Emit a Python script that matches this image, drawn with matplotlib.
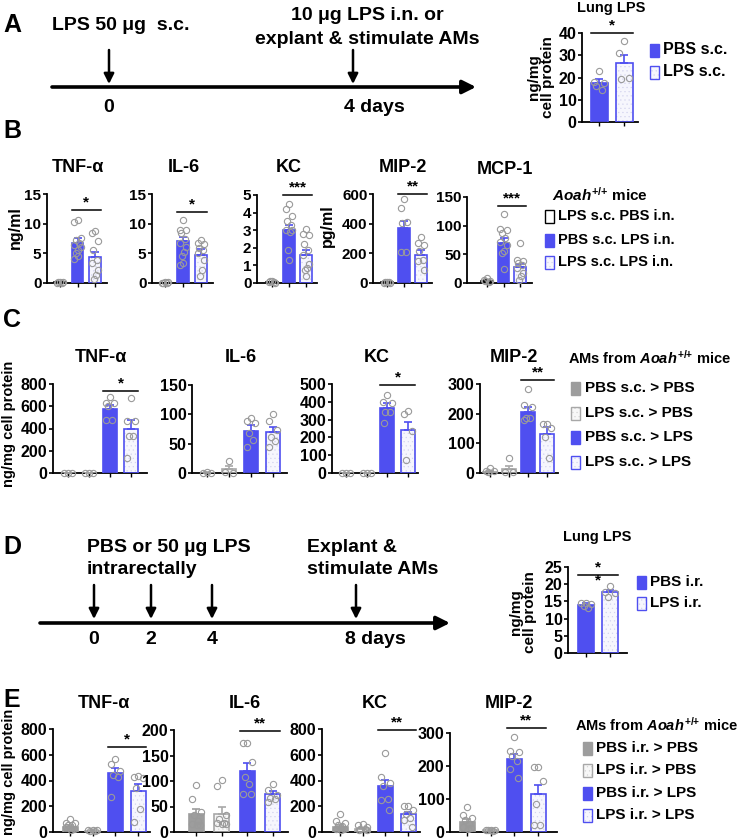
import matplotlib
matplotlib.use("Agg")
import matplotlib.pyplot as plt
import numpy as np
from matplotlib.patches import Rectangle

plt.rcParams["font.family"] = ["Liberation Sans", "DejaVu Sans"]
plt.rcParams["font.weight"] = "bold"
plt.rcParams["hatch.linewidth"] = 0.35
plt.rcParams["mathtext.fontset"] = "custom"
plt.rcParams["mathtext.it"] = "Liberation Sans:italic:bold"
plt.rcParams["mathtext.rm"] = "Liberation Sans:bold"
plt.rcParams["mathtext.bf"] = "Liberation Sans:bold"

# ---------------- data ----------------
A_GROUPS = ["PBS s.c.", "LPS s.c."]
A_MEAN = [17.6, 26.6]
A_SEM = [1.6, 3.5]
A_POINTS = [[23.1, 18.1, 17.4, 16.2, 14.6], [36.5, 31.0, 19.9, 19.2]]

B_TITLES = ["TNF-α", "IL-6", "KC", "MIP-2", "MCP-1"]
B_GROUPS = ["LPS s.c. PBS i.n.", "PBS s.c. LPS i.n.", "LPS s.c. LPS i.n."]
B_MEAN = [[0.1, 6.7, 4.3], [0.05, 7.1, 4.8], [0.05, 3.0, 1.6], [4, 370, 190], [3, 70, 28]]
B_SEM = [[0.05, 0.9, 0.9], [0.03, 0.6, 1.0], [0.02, 0.3, 0.3], [1, 48, 32], [2, 8, 6]]
B_POINTS = [
    [[0.1, 0.0, 0.2, 0.1, 0.0],
     [10.7, 10.2, 7.6, 7.3, 6.8, 6.4, 6.0, 5.5, 5.0, 4.5, 4.0],
     [8.7, 8.4, 7.0, 5.6, 3.9, 3.4, 2.2, 1.4, 0.6]],
    [[0.1, 0.0, 0.1, 0.0, 0.05],
     [10.7, 8.9, 8.9, 8.4, 7.5, 6.7, 6.1, 5.3, 4.5, 3.4, 3.1],
     [7.3, 6.8, 6.6, 5.9, 5.6, 5.0, 3.9, 2.2, 1.1]],
    [[0.1, 0.05, 0.0, 0.1, 0.05],
     [4.5, 4.2, 3.8, 3.5, 3.3, 3.0, 3.0, 2.9, 1.9, 1.3],
     [3.06, 2.8, 2.7, 2.2, 1.9, 1.6, 1.1, 0.85, 0.75, 0.4]],
    [[5, 3, 2, 4, 6],
     [566, 503, 414, 403, 206, 206],
     [313, 268, 257, 213, 157, 145, 89]],
    [[8.7, 5.8, 2.9, 2.9, 1.2],
     [121, 95, 93, 87, 78, 72, 66, 55, 52, 24],
     [69, 40, 39, 35, 32, 26, 17, 12, 6]],
]
B_YMAX = [15, 15, 5, 600, 150]
B_STEP = [5, 5, 1, 200, 50]
B_SIG = [(1, 2, 12.3, "*"), (1, 2, 12.0, "*"), (1, 2, 5.0, "***"),
         (1, 2, 600, "**"), (1, 2, 135, "***")]

C_TITLES = ["TNF-α", "IL-6", "KC", "MIP-2"]
C_GROUPS = ["PBS s.c. > PBS", "LPS s.c. > PBS", "PBS s.c. > LPS", "LPS s.c. > LPS"]
C_MEAN = [[0, 0, 578, 398], [0.5, 6, 72, 70], [0, 0, 364, 239], [5, 13, 204, 131]]
C_SEM = [[0, 0, 36, 78], [0.4, 6, 9, 9], [0, 0, 27, 50], [2, 11, 19, 23]]
C_POINTS = [
    [[0, 0, 0], [0, 0, 0],
     [680, 625, 625, 600, 480, 480],
     [672, 469, 469, 337, 337, 134]],
    [[1, 0.5, 0.5], [20, 1, 0.5],
     [93, 88, 86, 68, 57, 45],
     [100, 88, 74, 62, 54, 44]],
    [[0, 0, 0], [0, 0, 0],
     [438, 401, 392, 345, 340, 280],
     [351, 330, 235, 75]],
    [[17, 6, 6, 2], [50, 2, 2],
     [283, 229, 224, 185, 185, 179],
     [166, 166, 151, 123, 50]],
]
C_YMAX = [800, 150, 500, 300]
C_STEP = [200, 50, 100, 100]
C_SIG = [(2, 3, 740, "*"), None, (2, 3, 494, "*"), (2, 3, 313, "**")]

D_GROUPS = ["PBS i.r.", "LPS i.r."]
D_MEAN = [14.0, 17.7]
D_SEM = [0.5, 0.6]
D_POINTS = [[14.6, 14.5, 14.2, 13.6, 13.2], [19.5, 17.8, 17.5, 16.4]]

E_TITLES = ["TNF-α", "IL-6", "KC", "MIP-2"]
E_GROUPS = ["PBS i.r. > PBS", "LPS i.r. > PBS", "PBS i.r. > LPS", "LPS i.r. > LPS"]
E_MEAN = [[40, 11, 458, 318], [35, 35, 119, 74], [40, 22, 356, 136], [30, 6, 222, 114]]
E_SEM = [[12, 3, 38, 58], [11, 14, 16, 6], [14, 9, 46, 22], [10, 2, 14, 28]]
E_POINTS = [
    [[104, 73, 73, 52, 52, 39, 26, 18], [18, 13, 13, 8, 5],
     [564, 532, 470, 442, 430, 273],
     [436, 429, 421, 343, 182, 78]],
    [[93, 64, 39, 33, 21, 16, 13, 13], [102, 90, 33, 26, 18, 18, 16, 16],
     [174, 174, 138, 108, 95, 75, 74],
     [95, 82, 72, 66, 64, 58]],
    [[138, 83, 70, 52, 44, 26, 26, 18], [65, 57, 39, 26, 21, 13, 13],
     [610, 430, 380, 358, 260, 250, 170],
     [205, 200, 170, 140, 105, 95, 40]],
    [[76, 53, 41, 36, 25, 15, 12, 10], [7, 7, 5, 5, 4],
     [287, 244, 242, 229, 214, 190, 165],
     [198, 198, 155, 86, 20, 20]],
]
E_YMAX = [800, 200, 800, 300]
E_STEP = [200, 50, 200, 100]
E_SIG = [(2, 3, 662, "*"), (2, 3, 198, "**"), (2, 3, 792, "**"), (2, 3, 315, "**")]

A_DAYS = ["0", "4 days"]
D_DAYS = ["0", "2", "4", "8 days"]

# ---------------- style ----------------
W, H = 740, 840
BLUE = "#4f4ff0"
GRAY = "#9d9d9d"
PT_COLOR = "#9a9a9a"
STYLE = {
    "blue": dict(face=BLUE, dots=None, edge=BLUE),
    "blue_dot": dict(face="#f6f6fd", dots="#d2d2ee", edge=BLUE),
    "gray": dict(face=GRAY, dots=None, edge=GRAY),
    "gray_dot": dict(face="#f7f7f7", dots="#d4d4d4", edge="#a8a8a8"),
    "open": dict(face="white", dots=None, edge="black"),
}
JIT = np.array([0, -1, 1, -0.5, 0.5, -0.9, 0.9, 0.2, -0.3])
TXT = 14

fig = plt.figure(figsize=(W / 100, H / 100), dpi=100)
ov = fig.add_axes([0, 0, 1, 1])
ov.set_xlim(0, W)
ov.set_ylim(H, 0)
ov.axis("off")


def px_axes(left, right, top, bottom):
    ax = fig.add_axes([left / W, 1 - bottom / H, (right - left) / W, (bottom - top) / H])
    ax.patch.set_alpha(0)
    return ax


def fill_rect(target, x, y, w, h, style, lw=1.2, z=2, bar=False):
    s = STYLE[style]
    if bar:
        target.bar(x, h, w, color=s["face"], edgecolor=s["dots"] or "none",
                   hatch="...." if s["dots"] else None, linewidth=0, zorder=z)
        target.bar(x, h, w, facecolor="none", edgecolor=s["edge"], linewidth=lw, zorder=z + 1)
    else:
        target.add_patch(Rectangle((x, y), w, h, facecolor=s["face"],
                                   edgecolor=s["dots"] or "none",
                                   hatch="...." if s["dots"] else None, linewidth=0))
        target.add_patch(Rectangle((x, y), w, h, facecolor="none",
                                   edgecolor=s["edge"], linewidth=lw))


def bar_panel(ax, layout, means, sems, points, styles, ymax, step, sig, bw_px,
              tick_fs=11.5):
    L, R, x0, sp, top = layout
    n = len(means)
    bw = bw_px / sp
    for i in range(n):
        st = STYLE[styles[i]]
        fill_rect(ax, i, 0, bw, means[i], styles[i], bar=True)
        ax.errorbar(i, means[i], yerr=[[0], [sems[i]]], fmt="none", ecolor=st["edge"],
                    elinewidth=1.2, capsize=2.8, capthick=1.2, zorder=4)
        pts = np.array(points[i], dtype=float)
        offs = np.resize(JIT, len(pts)) * bw * 0.3
        ax.plot(i + offs, pts, "o", ms=4.5, mfc="none", mec=PT_COLOR, mew=0.8,
                zorder=5, clip_on=False)
    ax.set_xlim((L - x0) / sp, (R - x0) / sp)
    ax.set_ylim(0, ymax)
    ax.set_yticks(np.arange(0, ymax + step / 2, step))
    ax.set_xticks(range(n))
    ax.set_xticklabels([])
    ax.tick_params(axis="y", labelsize=tick_fs, length=3, width=1.2, pad=1)
    ax.tick_params(axis="x", length=3, width=1.0)
    for side in ["top", "right"]:
        ax.spines[side].set_visible(False)
    for side in ["left", "bottom"]:
        ax.spines[side].set_linewidth(1.3)
    if sig is not None:
        i, j, y, lab = sig
        ax.plot([i - bw / 2, j + bw / 2], [y, y], color="black", lw=1.1, clip_on=False)
        ax.text((i + j) / 2, y + ymax * 0.005, lab, ha="center", va="bottom",
                fontsize=11, clip_on=False)


def legend_block(x_box, x_txt, ys, labels, styles, fs, bw=9, bh=13):
    for y, lab, st in zip(ys, labels, styles):
        fill_rect(ov, x_box, y - bh / 2, bw, bh, st, lw=1.0)
        ov.text(x_txt, y, lab, ha="left", va="center", fontsize=fs)


def timeline(y, x_start, x_end, arrow_xs, arrow_top, arrow_bot):
    ov.annotate("", xy=(x_end, y), xytext=(x_start, y),
                arrowprops=dict(arrowstyle="-|>", lw=2.6, color="black",
                                mutation_scale=20, shrinkA=0, shrinkB=0))
    for x in arrow_xs:
        ov.annotate("", xy=(x, arrow_bot), xytext=(x, arrow_top),
                    arrowprops=dict(arrowstyle="-|>", lw=1.8, color="black",
                                    mutation_scale=15, shrinkA=0, shrinkB=0))


# ---------------- panel letters ----------------
for lab, x, y in [("A", 12, 25), ("B", 12, 131), ("C", 12, 320), ("D", 12, 547), ("E", 12, 700)]:
    ov.text(x, y, lab, ha="center", va="center", fontsize=18)

# ---------------- A ----------------
timeline(87, 52, 476, [109, 353], 50, 84)
ov.text(52, 26, "LPS 50 μg  s.c.", ha="left", va="center", fontsize=TXT)
ov.text(367, 15, "10 μg LPS i.n. or", ha="center", va="center", fontsize=TXT)
ov.text(367, 39, "explant & stimulate AMs", ha="center", va="center", fontsize=TXT)
ov.text(109, 108, A_DAYS[0], ha="center", va="center", fontsize=TXT)
ov.text(344, 108, A_DAYS[1], ha="left", va="center", fontsize=TXT)

axA = px_axes(582, 638, 33, 122)
bar_panel(axA, (582, 638, 599, 25, 33), A_MEAN, A_SEM, A_POINTS, ["blue", "blue_dot"],
          40, 10, (0, 1, 40, "*"), 17)
ov.text(611, 8, "Lung LPS", ha="center", va="center", fontsize=10.5)
ov.text(541, 77, "ng/mg\ncell protein", ha="center", va="center", rotation=90,
        fontsize=11, linespacing=0.95)
legend_block(650, 663, [50, 72], A_GROUPS, ["blue", "blue_dot"], 11.5)

# ---------------- B ----------------
B_LAYOUT = [(47, 107, 60, 17.5, 194), (152, 213, 165, 18, 194), (257, 317, 272, 17, 195),
            (373, 432, 387, 17, 194), (467, 532, 487, 16.5, 197)]
B_TX = [78, 184, 289, 403, 505]
for k in range(5):
    lay = B_LAYOUT[k]
    ax = px_axes(lay[0], lay[1], lay[4], 283)
    bar_panel(ax, lay, B_MEAN[k], B_SEM[k], B_POINTS[k], ["open", "blue", "blue_dot"],
              B_YMAX[k], B_STEP[k], B_SIG[k], 11.5, tick_fs=11)
    ov.text(B_TX[k], 167 if k < 4 else 170, B_TITLES[k], ha="center", va="center", fontsize=13)
ov.text(15, 228, "ng/ml", rotation=90, ha="center", va="center", fontsize=11.5)
ov.text(327, 226, "pg/ml", rotation=90, ha="center", va="center", fontsize=11.5)
ov.text(552, 195, r"$\mathit{Aoah}^{{+}/{+}}$ mice", ha="left", va="center", fontsize=11)
legend_block(545, 558, [216, 240, 262], B_GROUPS, ["open", "blue", "blue_dot"], 10.5)

# ---------------- C ----------------
C_LAYOUT = [(53, 147, 68, 21, 384), (192, 287, 207, 22, 385), (332, 418, 346, 20.7, 384),
            (480, 558, 490, 19, 384)]
C_TX = [101, 241, 377, 514]
STY4 = ["gray", "gray_dot", "blue", "blue_dot"]
for k in range(4):
    lay = C_LAYOUT[k]
    ax = px_axes(lay[0], lay[1], lay[4], 473)
    bar_panel(ax, lay, C_MEAN[k], C_SEM[k], C_POINTS[k], STY4,
              C_YMAX[k], C_STEP[k], C_SIG[k], 14)
    ov.text(C_TX[k], 357, C_TITLES[k], ha="center", va="center", fontsize=13)
ov.text(9, 424, "ng/mg cell protein", rotation=90, ha="center", va="center", fontsize=10.5)
ov.text(568, 358, r"AMs from $\mathit{Aoah}^{{+}/{+}}$ mice", ha="left", va="center", fontsize=10.5)
legend_block(571, 585, [388, 413, 437, 462], C_GROUPS, STY4, 11)

# ---------------- D ----------------
timeline(623, 40, 450, [94, 151, 212, 356], 585, 619)
ov.text(87, 547, "PBS or 50 µg LPS", ha="left", va="center", fontsize=TXT)
ov.text(87, 569, "intrarectally", ha="left", va="center", fontsize=TXT)
ov.text(307, 547, "Explant &", ha="left", va="center", fontsize=TXT)
ov.text(307, 569, "stimulate AMs", ha="left", va="center", fontsize=TXT)
for x, lab in zip([94, 151, 212], D_DAYS[:3]):
    ov.text(x, 640, lab, ha="center", va="center", fontsize=TXT)
ov.text(345, 640, D_DAYS[3], ha="left", va="center", fontsize=TXT)

axD = px_axes(568, 627, 567, 653)
bar_panel(axD, (568, 627, 586, 24, 567), D_MEAN, D_SEM, D_POINTS, ["blue", "blue_dot"],
          25, 5, (0, 1, 22.7, "*"), 16)
axD.text(0.5, 19.0, "*", ha="center", va="bottom", fontsize=11)
ov.text(597, 537, "Lung LPS", ha="center", va="center", fontsize=10.5)
ov.text(523, 612, "ng/mg\ncell protein", ha="center", va="center", rotation=90,
        fontsize=11, linespacing=0.95)
legend_block(637, 650, [582, 603], D_GROUPS, ["blue", "blue_dot"], 11)

# ---------------- E ----------------
E_LAYOUT = [(53, 150, 70, 22.7, 729), (174, 288, 196, 25.5, 730), (322, 420, 340, 22.7, 729),
            (450, 557, 467, 23.7, 733)]
E_TX = [104, 245, 375, 509]
for k in range(4):
    lay = E_LAYOUT[k]
    ax = px_axes(lay[0], lay[1], lay[4], 832)
    bar_panel(ax, lay, E_MEAN[k], E_SEM[k], E_POINTS[k], STY4,
              E_YMAX[k], E_STEP[k], E_SIG[k], 15)
    ov.text(E_TX[k], 703, E_TITLES[k], ha="center", va="center", fontsize=13)
ov.text(9, 772, "ng/mg cell protein", rotation=90, ha="center", va="center", fontsize=10.5)
ov.text(575, 725, r"AMs from $\mathit{Aoah}^{{+}/{+}}$ mice", ha="left", va="center", fontsize=10.5)
legend_block(583, 596, [748, 770, 793, 815], E_GROUPS, STY4, 11)

fig.savefig("out.png", dpi=100)
